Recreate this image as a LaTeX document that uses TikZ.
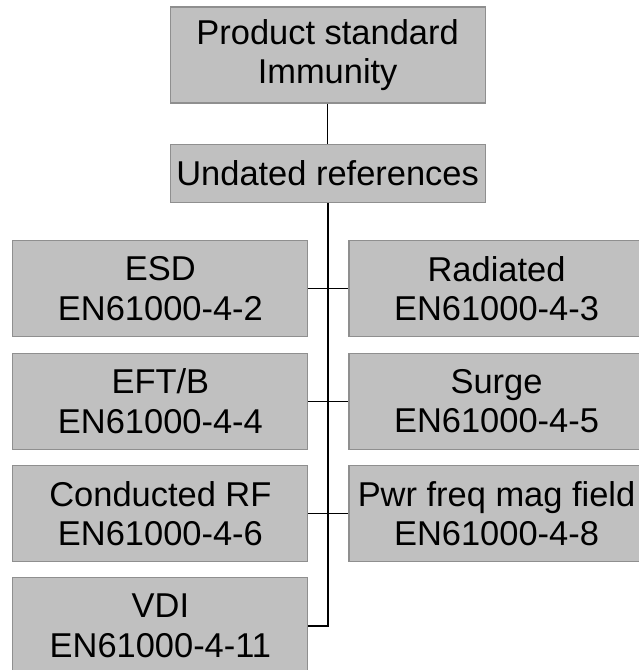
\documentclass[tikz,border=0pt]{standalone}
\usepackage{fontspec}
\setmainfont{Liberation Sans}
\usetikzlibrary{positioning}
\definecolor{boxgrey}{HTML}{C0C0C0}
\definecolor{edgegrey}{HTML}{8F8F8F}
\tikzset{
  stdbox/.style     = {draw=edgegrey, line width=0.8pt, fill=boxgrey, minimum width=73.75mm,
                       minimum height=24mm, inner sep=2pt, align=center},
  topbox/.style     = {stdbox, minimum width=78.75mm},
  wire/.style       = {line width=0.8pt},
  trunk/.style      = {line width=1.4pt},
  node distance     = 3.8mm and 10mm,
  every node/.style = {font=\fontsize{24.5}{28}\selectfont},
}
\begin{document}
\begin{tikzpicture}
  \useasboundingbox (0,0) rectangle (15.95,-16.75);
  \node[topbox] (prod) at (8.19,-1.375) {Product standard\\Immunity};
  \node[topbox, minimum height=14.6mm, below=10mm of prod] (undated) {Undated references};
  % left and right columns of basic standards
  \node[stdbox] (esd) at (4.01,-7.22) {ESD\\EN61000-4-2};
  \node[stdbox, right=of esd] (rad) {Radiated\\EN61000-4-3};
  \node[stdbox, below=of esd] (eft) {EFT/B\\EN61000-4-4};
  \node[stdbox, right=of eft] (surge) {Surge\\EN61000-4-5};
  \node[stdbox, below=of eft] (crf) {Conducted RF\\EN61000-4-6};
  \node[stdbox, right=of crf] (pwr) {Pwr freq mag field\\EN61000-4-8};
  \node[stdbox, below=of crf] (vdi) {VDI\\EN61000-4-11};
  \draw[wire] (prod) -- (undated);
  \draw[trunk] (undated.south) |- (vdi.east);
  \foreach \l/\r in {esd/rad, eft/surge, crf/pwr}
    \draw[wire] (\l) -- (\r);
\end{tikzpicture}
\end{document}
